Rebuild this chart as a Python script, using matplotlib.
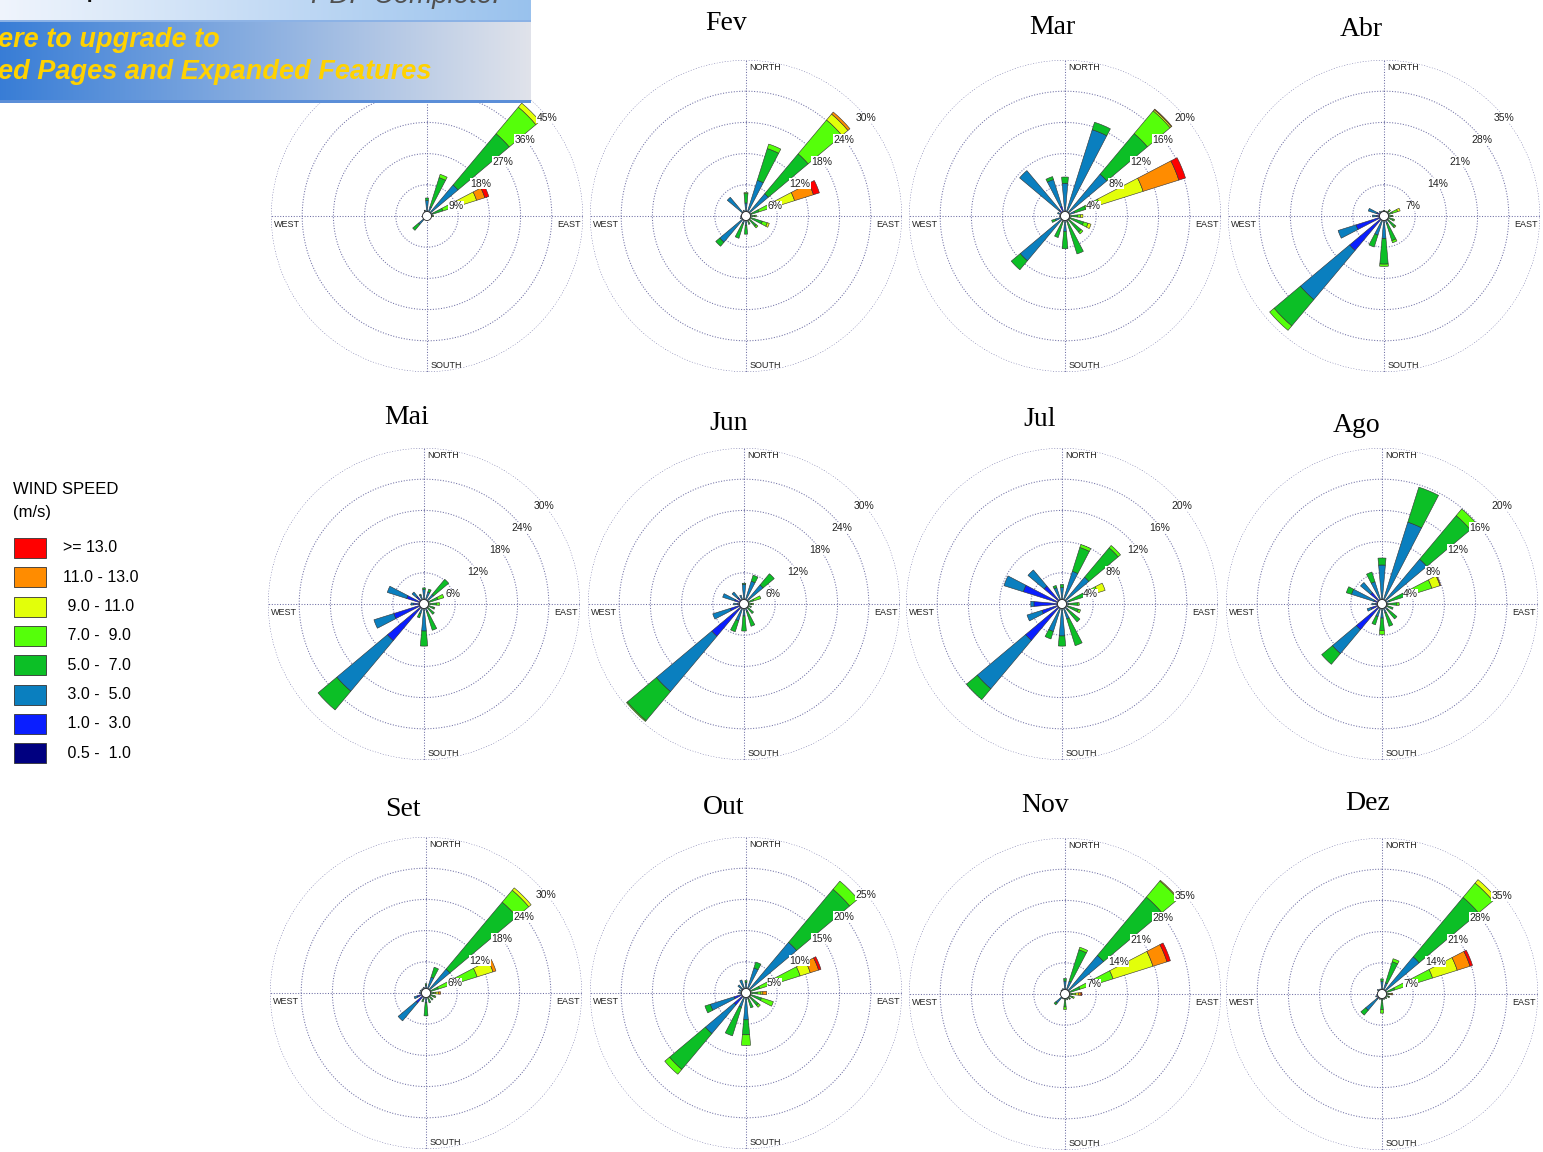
import numpy as np
import matplotlib.pyplot as plt
from matplotlib.patches import Rectangle

W, H = 1543, 1152

months = ['Jan', 'Fev', 'Mar', 'Abr', 'Mai', 'Jun', 'Jul', 'Ago', 'Set', 'Out', 'Nov', 'Dez']
# 16 directions, clockwise from north
directions = ['N', 'NNE', 'NE', 'ENE', 'E', 'ESE', 'SE', 'SSE',
              'S', 'SSW', 'SW', 'WSW', 'W', 'WNW', 'NW', 'NNW']
# speed classes, low to high
speed_labels = [' 0.5 -  1.0', ' 1.0 -  3.0', ' 3.0 -  5.0', ' 5.0 -  7.0',
                ' 7.0 -  9.0', ' 9.0 - 11.0', '11.0 - 13.0', '>= 13.0']
speed_colors = ['#000080', '#0a1eff', '#0a7fbf', '#0cbf26',
                '#55ff0a', '#e2ff0a', '#ff8c00', '#ff0000']
ring_step = [9, 6, 4, 7, 6, 6, 4, 4, 6, 5, 7, 7]

# frequency (%) per direction, per speed class (missing classes = 0)
jan = [[0, 0.5, 4.0, 0.7], [0, 0.3, 2.5, 8.8, 1.0], [0.1, 0.5, 11.1, 19.3, 10.0, 1.5],
       [0, 0.3, 1.5, 3.0, 4.8, 5.4, 2.5, 1.2], [0, 0.2, 0.4, 1.0, 0.3], [0, 0.2, 0.4, 0.6],
       [0, 0.2, 0.3, 0.5], [0, 0.2, 0.3, 0.3], [0, 0.2, 0.4, 0.2], [0, 0.2, 0.3, 0.2],
       [0.2, 1.0, 2.0, 2.2], [0, 0.3, 0.3], [0, 0.3, 0.3], [0, 0.3, 0.3],
       [0, 0.4, 0.6, 0.2], [0, 0.4, 1.2, 0.2]]
fev = [[0, 0.3, 2.2, 1.8, 0.2], [0, 0.4, 6.8, 6.4, 0.9], [0.1, 0.6, 4.9, 10.0, 8.5, 1.5, 0.5],
       [0, 0.3, 0.8, 1.5, 3.0, 4.2, 3.8, 1.2], [0, 0.2, 0.5, 1.0, 0.3], [0, 0.2, 0.6, 2.5, 1.0, 0.4],
       [0, 0.2, 0.6, 1.8, 0.4], [0, 0.2, 0.5, 1.0], [0, 0.3, 1.5, 1.7], [0, 0.3, 1.2, 3.0],
       [0, 0.8, 5.8, 1.0], [0, 0.4, 0.8], [0, 0.4, 0.6], [0, 0.4, 0.5],
       [0.1, 0.8, 3.8], [0, 0.4, 0.8]]
mar = [[0, 0.3, 3.9, 0.8], [0, 0.4, 11.2, 1.0], [0.1, 0.5, 6.4, 6.8, 3.8, 0.2, 0.1],
       [0, 0.3, 1.0, 1.5, 1.9, 5.8, 4.8, 0.9], [0, 0.2, 0.4, 1.0, 0.4, 0.3], [0, 0.2, 0.5, 1.8, 0.6, 0.4],
       [0, 0.2, 0.5, 2.0, 0.3], [0, 0.2, 0.6, 4.3], [0, 0.2, 1.8, 2.2], [0, 0.2, 0.6, 2.1],
       [0.1, 0.5, 6.9, 1.5], [0, 0.4, 0.9, 0.5], [0, 0.3, 0.4], [0, 0.4, 0.6],
       [0, 1.0, 6.6], [0.1, 1.2, 3.6, 0.4]]
abr = [[0, 0.3, 0.8, 0.2], [0, 0.3, 0.6, 0.3], [0, 0.2, 0.5, 0.8, 0.4],
       [0, 0.2, 0.5, 1.3, 1.2, 0.6], [0, 0.2, 0.5, 1.0, 0.3], [0, 0.2, 0.6, 1.4, 0.3],
       [0, 0.2, 1.0, 2.0, 0.3], [0, 0.3, 1.5, 4.0, 0.5], [0, 0.5, 4.6, 5.7, 0.5], [0, 0.5, 4.0, 2.8],
       [0.3, 9.8, 14.4, 7.7, 1.3], [0.3, 6.3, 4.2], [0.1, 1.5, 1.0], [0.1, 1.6, 2.0],
       [0, 0.6, 0.8], [0, 0.4, 0.8]]
mai = [[0, 0.5, 2.3, 0.3], [0, 0.4, 2.0, 0.6], [0, 0.4, 2.0, 3.8],
       [0, 0.2, 0.8, 1.8, 1.2], [0, 0.2, 0.6, 1.6, 0.6], [0, 0.2, 0.6, 1.2, 0.2],
       [0, 0.2, 0.8, 1.6], [0, 0.3, 1.2, 3.8], [0, 0.5, 4.7, 2.9], [0, 0.4, 1.6, 0.8],
       [0.3, 8.9, 12.7, 4.7], [0.3, 5.8, 4.0], [0.2, 1.8, 0.5], [0.2, 3.3, 3.9],
       [0.1, 1.8, 1.1], [0, 0.6, 1.2, 0.2]]
jun = [[0, 0.4, 3.4, 0.2], [0, 0.4, 4.2, 1.2], [0, 0.4, 4.4, 2.8],
       [0, 0.2, 0.6, 1.2, 1.4], [0, 0.2, 0.5, 0.8, 0.3], [0, 0.2, 0.5, 0.8],
       [0, 0.2, 0.8, 1.4], [0, 0.3, 1.2, 3.0], [0, 0.3, 2.0, 2.9], [0, 0.4, 3.0, 2.2],
       [0.3, 7.8, 13.9, 7.3, 0.2], [0.2, 2.6, 3.5], [0.1, 1.2, 0.7], [0.1, 1.8, 2.4],
       [0.1, 1.5, 1.4], [0, 0.6, 1.2]]
jul = [[0, 0.4, 1.7, 0.4], [0, 0.4, 4.0, 3.2, 0.4], [0, 0.4, 4.1, 4.9, 0.4],
       [0, 0.2, 0.8, 2.0, 1.8, 1.0], [0, 0.2, 0.6, 1.2, 0.2], [0, 0.2, 0.6, 1.4, 0.3],
       [0, 0.2, 0.8, 2.0], [0, 0.3, 1.7, 3.6], [0, 0.5, 3.6, 1.3], [0, 0.4, 3.3, 1.0],
       [0.3, 5.8, 8.1, 1.8], [0.2, 2.5, 2.0], [0.2, 3.4, 0.4], [0.3, 4.9, 2.6],
       [0.2, 2.8, 2.7], [0, 0.6, 1.6, 0.3]]
ago = [[0, 0.4, 4.6, 0.9], [0, 0.4, 10.6, 4.7], [0, 0.4, 7.1, 7.3, 1.1],
       [0, 0.2, 0.8, 2.0, 3.7, 1.1, 0.1], [0, 0.2, 0.5, 1.2, 0.3], [0, 0.2, 0.5, 0.8],
       [0, 0.2, 0.8, 1.5], [0, 0.2, 1.0, 1.8], [0, 0.3, 1.5, 1.6, 0.5], [0, 0.3, 1.4, 1.1],
       [0.2, 4.1, 4.0, 1.8], [0.1, 1.4, 0.5], [0, 0.8, 0.5], [0.1, 1.0, 3.0, 0.7],
       [0.1, 1.8, 1.7], [0, 0.4, 2.6, 1.3]]
set_ = [[0, 0.3, 1.2, 0.3], [0, 0.4, 2.8, 2.0], [0, 0.4, 5.6, 16.8, 3.0, 0.6],
        [0, 0.2, 0.8, 1.5, 7.8, 3.2, 0.6], [0, 0.2, 0.5, 0.8, 0.4, 0.5, 0.4], [0, 0.2, 0.5, 1.0, 0.3],
        [0, 0.2, 0.6, 1.0], [0, 0.2, 0.6, 1.2], [0, 0.3, 1.6, 2.5], [0, 0.3, 1.0, 0.5],
        [0.2, 2.3, 4.5], [0.2, 1.6, 0.6], [0.1, 0.8, 0.4], [0.1, 0.6, 0.5],
        [0, 0.5, 0.6], [0, 0.4, 0.8]]
out = [[0, 0.3, 1.4, 0.3], [0, 0.4, 3.8, 1.0], [0.1, 0.7, 9.8, 11.1, 1.7],
       [0, 0.2, 0.6, 1.5, 6.8, 1.7, 1.4, 0.4], [0, 0.2, 0.4, 1.2, 0.6, 0.3, 0.6], [0, 0.2, 0.6, 1.8, 2.0],
       [0, 0.2, 0.6, 1.8, 0.4], [0, 0.2, 0.8, 1.5], [0, 0.5, 3.8, 2.4, 1.7], [0, 0.4, 2.0, 4.8],
       [0.2, 2.3, 6.0, 7.5, 1.0], [0.2, 1.8, 4.0, 0.9], [0.1, 0.6, 0.5], [0.1, 0.6, 0.5],
       [0.1, 0.8, 0.8], [0, 0.6, 1.6]]
nov = [[0, 0.4, 2.5, 0.6], [0, 0.4, 2.6, 7.4, 0.6], [0, 0.4, 10.9, 17.1, 4.7, 0.2],
       [0, 0.2, 0.8, 2.5, 7.8, 9.4, 3.3, 0.8], [0, 0.2, 0.4, 1.0, 0.8, 0.6, 0.6, 0.2], [0, 0.2, 0.4, 1.2, 0.4],
       [0, 0.2, 0.4, 0.8, 0.2], [0, 0.2, 0.4, 0.8], [0, 0.3, 0.8, 1.8, 0.6], [0, 0.2, 0.6, 0.4],
       [0.1, 0.8, 1.8, 0.5], [0, 0.4, 0.5], [0, 0.3, 0.4], [0, 0.3, 0.4],
       [0, 0.4, 0.8], [0, 0.4, 0.9]]
dez = [[0, 0.4, 2.4, 0.6], [0, 0.4, 2.2, 5.0, 0.7], [0, 0.4, 10.5, 17.4, 4.2, 1.0],
       [0, 0.2, 0.8, 2.0, 8.9, 5.8, 3.0, 0.6], [0, 0.2, 0.4, 0.8, 0.4, 0.3, 0.3], [0, 0.2, 0.4, 1.0, 0.2],
       [0, 0.2, 0.4, 0.8], [0, 0.2, 0.4, 0.7], [0, 0.3, 1.0, 2.2, 0.8], [0, 0.2, 0.6, 0.5],
       [0.2, 1.2, 3.4, 1.4], [0.1, 0.8, 0.6], [0.1, 0.5, 0.4], [0.1, 0.5, 0.4],
       [0.1, 0.6, 0.7], [0, 0.4, 0.8]]
month_data = [jan, fev, mar, abr, mai, jun, jul, ago, set_, out, nov, dez]

# layout (pixels in the 1543x1152 picture)
centers = [(427, 216), (746, 216), (1065, 216), (1384, 216),
           (424, 604), (744, 604), (1062, 604), (1382, 604),
           (426, 993), (746, 993), (1065, 994), (1382, 994)]
title_pos = [(407, 25), (726, 23), (1052, 28), (1361, 30),
             (407, 418), (729, 423), (1040, 420), (1357, 425),
             (403, 810), (724, 807), (1045, 805), (1368, 803)]
R = 156
grid_col = '#6e6ea4'
plt.rcParams['font.family'] = ['Liberation Sans', 'DejaVu Sans']

fig = plt.figure(figsize=(W / 100, H / 100), dpi=100)


def rose(ax, freq, step):
    rmax = 5 * step
    freq = np.array([row + [0] * (8 - len(row)) for row in freq], dtype=float)
    theta = np.radians(np.arange(16) * 22.5)
    full = np.linspace(0, 2 * np.pi, 361)
    for k in range(1, 6):
        ax.plot(full, np.full(361, k * step), ls=(0, (1, 1.6)), color=grid_col, lw=0.75, zorder=1)
    for a in (0, 90, 180, 270):
        ax.plot([np.radians(a)] * 2, [0, rmax], ls=(0, (1, 1.6)), color=grid_col, lw=0.75, zorder=1)
    bottom = np.zeros(16)
    for b in range(8):
        m = freq[:, b] > 0
        ax.bar(theta[m], freq[m, b], width=np.radians(10), bottom=bottom[m],
               color=speed_colors[b], edgecolor='#303030', linewidth=0.4, zorder=3)
        bottom += freq[:, b]
    rc = rmax * 4.5 / R
    ax.fill(full, np.full(361, rc), facecolor='white', edgecolor='#222222', lw=0.6, zorder=4)
    for k in range(1, 6):
        ax.annotate(f'{k * step}%', xy=(np.radians(45), k * step), xytext=(-1, -12),
                    textcoords='offset pixels', ha='left', va='center', fontsize=7.5,
                    color='#222222', zorder=6,
                    bbox=dict(facecolor='white', edgecolor='none', pad=0.3))
    ax.set_ylim(0, rmax)
    kw = dict(transform=ax.transAxes, fontsize=6.5, color='#222222', va='center', zorder=6)
    ax.text(0.51, 0.976, 'NORTH', ha='left', **kw)
    ax.text(0.51, 0.022, 'SOUTH', ha='left', **kw)
    ax.text(0.008, 0.474, 'WEST', ha='left', **kw)
    ax.text(0.992, 0.474, 'EAST', ha='right', **kw)
    ax.set_axis_off()


for i, name in enumerate(months):
    cx, cy = centers[i]
    ax = fig.add_axes([(cx - R) / W, 1 - (cy + R) / H, 2 * R / W, 2 * R / H], projection='polar')
    ax.set_theta_zero_location('N')
    ax.set_theta_direction(-1)
    rose(ax, month_data[i], ring_step[i])
    tx, ty = title_pos[i]
    fig.text(tx / W, 1 - ty / H, name, fontsize=20, family=['Liberation Serif'],
             ha='center', va='center')

# legend
fig.text(13 / W, 1 - 489 / H, 'WIND SPEED', fontsize=12, ha='left', va='center')
fig.text(13 / W, 1 - 512 / H, '(m/s)', fontsize=12, ha='left', va='center')
for j, (lab, col) in enumerate(zip(speed_labels[::-1], speed_colors[::-1])):
    yc = 548 + j * 29.3
    fig.patches.append(Rectangle((14 / W, 1 - (yc + 10) / H), 32 / W, 20 / H, transform=fig.transFigure,
                                 facecolor=col, edgecolor='#333333', lw=0.6))
    fig.text(63 / W, 1 - yc / H, lab, fontsize=11.5, ha='left', va='center')

# PDF watermark banner, top left
bw, bh = 531, 103
img = np.ones((bh, bw, 3))
xs = np.linspace(0, 1, bw)[:, None]
top = (1 - xs) * np.array([0.94, 0.96, 0.99]) + xs * np.array([0.60, 0.76, 0.93])
low = (1 - xs) * np.array([0.22, 0.49, 0.84]) + xs * np.array([0.88, 0.89, 0.92])
img[0:20] = top[None, :, :]
img[20:22] = np.array([0.55, 0.70, 0.90])
img[22:100] = low[None, :, :]
img[100:103] = np.array([0.36, 0.56, 0.85])
bax = fig.add_axes([0, 1 - bh / H, bw / W, bh / H], zorder=10)
bax.imshow(img, extent=(0, bw, bh, 0), aspect='auto')
bax.set_xlim(0, bw)
bax.set_ylim(bh, 0)
bax.set_axis_off()
bax.text(500, -4, 'PDF Complete.', fontsize=20, style='italic', color='#505050',
         ha='right', va='center', clip_on=True)
bax.text(86, -13, 'p', fontsize=24, color='#111111', ha='left', va='center', clip_on=True)
bax.text(-2, 40, 'ere to upgrade to', fontsize=19.5, style='italic', weight='bold',
         color='#ffd200', ha='left', va='center', clip_on=True)
bax.text(-2, 72, 'ed Pages and Expanded Features', fontsize=19.5, style='italic', weight='bold',
         color='#ffd200', ha='left', va='center', clip_on=True)

fig.savefig('out.png', dpi=100)
